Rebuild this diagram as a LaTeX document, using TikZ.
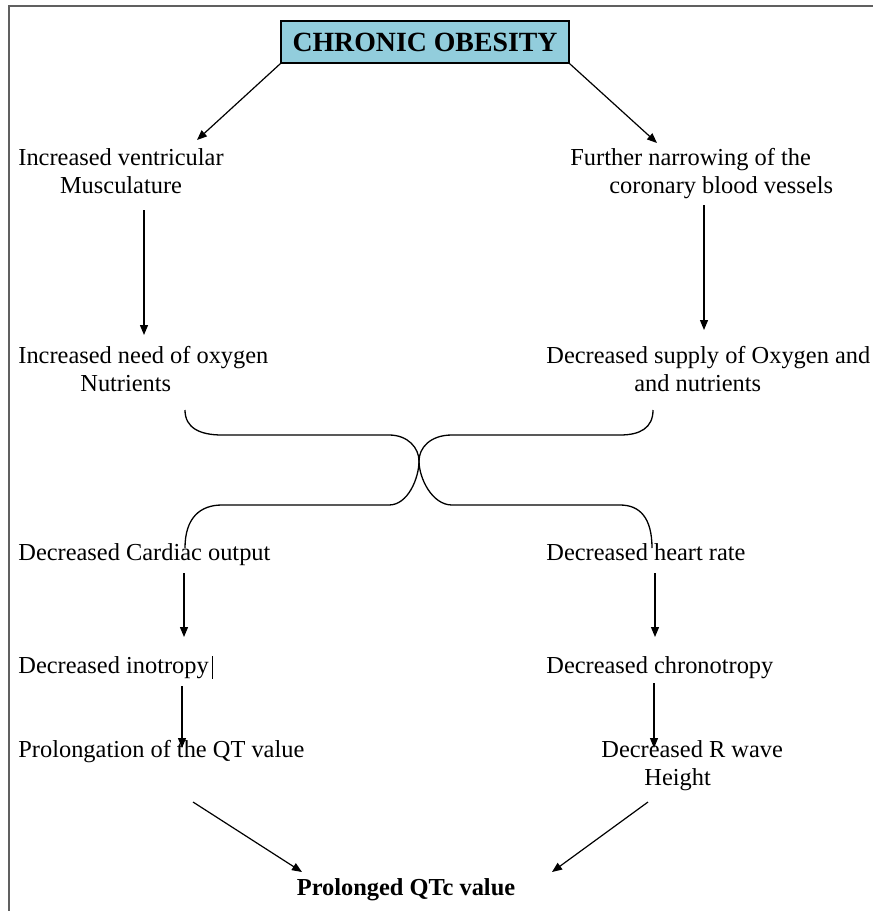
\documentclass[tikz,border=0pt]{standalone}
\usepackage{fontspec}
\setmainfont{Liberation Serif}
\usetikzlibrary{arrows.meta}
\definecolor{titleblue}{RGB}{146,205,220}
\definecolor{framegray}{RGB}{96,96,96}

\begin{document}
\begin{tikzpicture}
[x=0.5pt,y=-0.5pt,
  textdecorate/.style={anchor=north west,inner sep=0pt,font=\fontsize{12.2}{14}\selectfont},%
  titledecorate/.style={draw,line width=0.8pt,fill=titleblue,inner sep=0pt,
    minimum width=144pt,minimum height=21pt,font=\fontsize{13.9}{16}\selectfont\bfseries},%
  arrowdecorate/.style={-{Triangle[length=5pt,width=4pt]},line width=0.6pt},%
  curvedecorate/.style={line width=0.65pt}]
\useasboundingbox (0,0) rectangle (873,911);
\draw[framegray,line width=1pt] (873,6) -- (9,6) -- (9,911);

%% title and texts
\node (obesity) at (425,42) [titledecorate] {CHRONIC OBESITY};
\node (ventricular) at (18,148) [textdecorate,align=center] {Increased ventricular\\Musculature};
\node (narrowing) at (570,148) [textdecorate,align=left] {Further narrowing of the\\\hspace*{19.5pt}coronary blood vessels};
\node (need) at (18,346) [textdecorate,align=left] {Increased need of oxygen\\\hspace*{31pt}Nutrients};
\node (supply) at (546,346) [textdecorate,align=left] {Decreased supply of Oxygen and\\\hspace*{44pt}and nutrients};
\node (cardiac) at (18,543) [textdecorate] {Decreased Cardiac output};
\node (heartrate) at (546,543) [textdecorate] {Decreased heart rate};
\node (inotropy) at (18,656) [textdecorate] {Decreased inotropy};
\node (chronotropy) at (546,656) [textdecorate] {Decreased chronotropy};
\node (prolongation) at (18,740) [textdecorate] {Prolongation of the QT value};
\node (rwave) at (601,740) [textdecorate,align=left] {Decreased R wave\\\hspace*{21.5pt}Height};
\node (qtc) at (406,878) [textdecorate,anchor=north,font=\fontsize{12.2}{14}\selectfont\bfseries] {Prolonged QTc value};
\draw[line width=0.5pt] ([xshift=1.5pt]inotropy.north east) -- ([xshift=1.5pt]inotropy.south east);

%% arrow ends
\foreach \pointname/\x/\y in {a1/197/140, a2/657/143, b1/144/210, c1/144/335,
  b2/704/205, c2/704/330, d1/184/573, e1/184/637, d2/655/573, e2/655/637,
  f1/182/686, g1/182/748, f2/654/683, g2/654/748, h1/193/802, h2/648/802,
  k1/302/872, k2/552/872, cl1/185/410, cr1/653/410, cl2/185/548, cr2/652/548}
{
  \coordinate (\pointname) at (\x,\y);
}
%% arrows
\path
\foreach \startnode/\endnode in {obesity.south west/a1, obesity.south east/a2,
  b1/c1, b2/c2, d1/e1, d2/e2, f1/g1, f2/g2, h1/k1, h2/k2}
{
  (\startnode) edge[arrowdecorate] (\endnode)
};

%% crossing curves
\draw[curvedecorate] (cl1) .. controls (185,428) and (200,435) .. (222,435) -- (389,435)
  .. controls (408,435) and (419,448) .. (419,461)
  .. controls (419,478) and (432,505) .. (452,505) -- (620,505)
  .. controls (640,505) and (652,518) .. (cr2);
\draw[curvedecorate] (cr1) .. controls (653,428) and (640,435) .. (620,435) -- (452,435)
  .. controls (430,435) and (419,448) .. (419,461)
  .. controls (419,478) and (408,505) .. (389,505) -- (222,505)
  .. controls (200,505) and (185,518) .. (cl2);
\end{tikzpicture}
\end{document}
